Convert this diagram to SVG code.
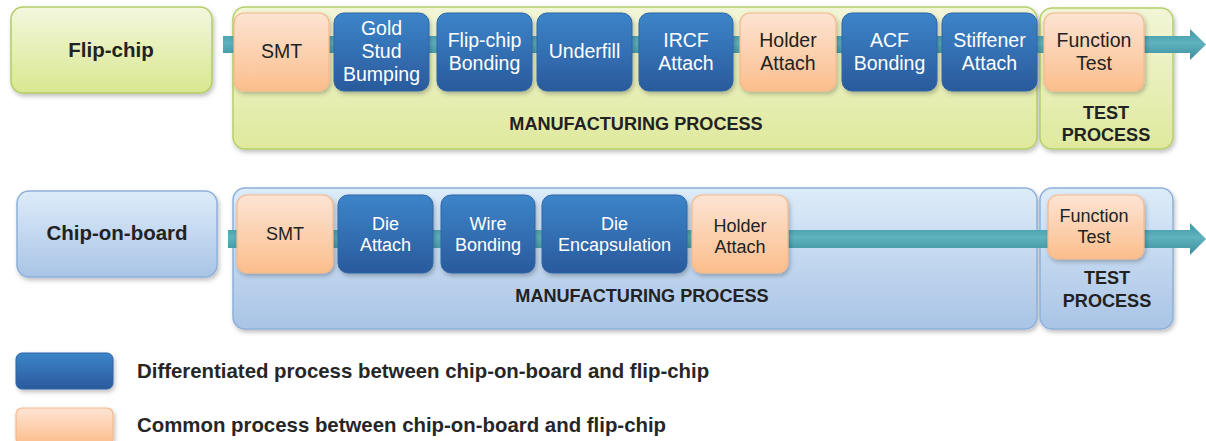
<svg xmlns="http://www.w3.org/2000/svg" width="1206" height="441" viewBox="0 0 1206 441">
<defs>
<linearGradient id="gGreen" x1="0" y1="0" x2="0" y2="1"><stop offset="0" stop-color="#f3f7de"/><stop offset="1" stop-color="#d9e78f"/></linearGradient>
<linearGradient id="gGreenC" x1="0" y1="0" x2="0" y2="1"><stop offset="0" stop-color="#f2f6d8"/><stop offset="1" stop-color="#dfe99d"/></linearGradient>
<linearGradient id="gBlueL" x1="0" y1="0" x2="0" y2="1"><stop offset="0" stop-color="#ddecf9"/><stop offset="1" stop-color="#a9c4e6"/></linearGradient>
<linearGradient id="gBlue" x1="0" y1="0" x2="0" y2="1"><stop offset="0" stop-color="#3c85c9"/><stop offset="1" stop-color="#2a5a9c"/></linearGradient>
<linearGradient id="gOrange" x1="0" y1="0" x2="0" y2="1"><stop offset="0" stop-color="#fde4d4"/><stop offset="1" stop-color="#fbbe8c"/></linearGradient>
<linearGradient id="gTeal" x1="0" y1="0" x2="0" y2="1"><stop offset="0" stop-color="#3f97a5"/><stop offset="0.45" stop-color="#5fb2be"/><stop offset="1" stop-color="#3a8e9c"/></linearGradient>
<filter id="sh" x="-10%" y="-10%" width="120%" height="130%"><feDropShadow dx="1.5" dy="2.5" stdDeviation="2" flood-color="#000" flood-opacity="0.25"/></filter>
<style>
.green{fill:url(#gGreen);stroke:#b3cc66;stroke-width:1.5}
.greenc{fill:url(#gGreenC);stroke:#b5cf6b;stroke-width:1.5}
.bluel{fill:url(#gBlueL);stroke:#8eb0da;stroke-width:1.5}
.blue{fill:url(#gBlue);stroke:#2f64a6;stroke-width:1}
.orange{fill:url(#gOrange);stroke:#f6b88a;stroke-width:1.2}
.teal{fill:url(#gTeal)}
text{font-family:"Liberation Sans",Arial,sans-serif;text-anchor:middle}
.t1w{font-size:19.5px;fill:#fff}
.t1d{font-size:19.5px;fill:#222}
.t2w{font-size:18px;fill:#fff}
.t2d{font-size:18px;fill:#222}
.title{font-size:20.5px;font-weight:bold;fill:#222}
.lab{font-size:18.1px;font-weight:bold;fill:#222}
.leg{font-size:20.4px;font-weight:bold;fill:#262626;text-anchor:start}
</style>
</defs>
<rect width="1206" height="441" fill="#fff"/>

<!-- Row 1: Flip-chip -->
<g id="flipchip-title"><rect class="green" x="11" y="7" width="201" height="86" rx="12" filter="url(#sh)"/><text class="title" x="111" y="57">Flip-chip</text></g>
<g id="fc-manufacturing"><rect class="greenc" x="233" y="7" width="804" height="142" rx="12" filter="url(#sh)"/><text class="lab" x="636" y="130">MANUFACTURING PROCESS</text></g>
<g id="fc-test"><rect class="greenc" x="1040" y="8" width="133" height="141" rx="12" filter="url(#sh)"/><text class="lab" x="1106" y="119">TEST</text><text class="lab" x="1106" y="141">PROCESS</text></g>

<!-- Row 2: Chip-on-board -->
<g id="cob-title"><rect class="bluel" x="17" y="191" width="200" height="86" rx="12" filter="url(#sh)"/><text class="title" x="117" y="240">Chip-on-board</text></g>
<g id="cob-manufacturing"><rect class="bluel" x="233" y="188" width="804" height="141" rx="12" filter="url(#sh)"/><text class="lab" x="642" y="302">MANUFACTURING PROCESS</text></g>
<g id="cob-test"><rect class="bluel" x="1040" y="188" width="133" height="141" rx="12" filter="url(#sh)"/><text class="lab" x="1107" y="284">TEST</text><text class="lab" x="1107" y="307">PROCESS</text></g>

<!-- Connectors -->
<g id="connectors">
<path class="teal" d="M223,36 H1190 V29 L1206,44.5 L1190,60 V53 H223 Z"/>
<path class="teal" d="M228,230 H1190 V223 L1206,239 L1190,255 V248 H228 Z"/>
</g>

<!-- Row 1 processes -->
<g id="fc-smt"><rect class="orange" x="234" y="13" width="95" height="78" rx="10" filter="url(#sh)"/><text class="t1d" x="281.5" y="58">SMT</text></g>
<g id="fc-gold"><rect class="blue" x="334" y="13" width="95" height="78" rx="10" filter="url(#sh)"/><text class="t1w" x="381.5" y="35">Gold</text><text class="t1w" x="381.5" y="58">Stud</text><text class="t1w" x="381.5" y="81">Bumping</text></g>
<g id="fc-bonding"><rect class="blue" x="437" y="13" width="95" height="78" rx="10" filter="url(#sh)"/><text class="t1w" x="484.5" y="47">Flip-chip</text><text class="t1w" x="484.5" y="70">Bonding</text></g>
<g id="fc-underfill"><rect class="blue" x="537" y="13" width="95" height="78" rx="10" filter="url(#sh)"/><text class="t1w" x="584.5" y="58">Underfill</text></g>
<g id="fc-ircf"><rect class="blue" x="639" y="13" width="94" height="78" rx="10" filter="url(#sh)"/><text class="t1w" x="686" y="47">IRCF</text><text class="t1w" x="686" y="70">Attach</text></g>
<g id="fc-holder"><rect class="orange" x="740" y="13" width="96" height="78" rx="10" filter="url(#sh)"/><text class="t1d" x="788" y="47">Holder</text><text class="t1d" x="788" y="70">Attach</text></g>
<g id="fc-acf"><rect class="blue" x="842" y="13" width="95" height="78" rx="10" filter="url(#sh)"/><text class="t1w" x="889.5" y="47">ACF</text><text class="t1w" x="889.5" y="70">Bonding</text></g>
<g id="fc-stiffener"><rect class="blue" x="942" y="13" width="95" height="78" rx="10" filter="url(#sh)"/><text class="t1w" x="989.5" y="47">Stiffener</text><text class="t1w" x="989.5" y="70">Attach</text></g>
<g id="fc-function"><rect class="orange" x="1044" y="13" width="100" height="78" rx="10" filter="url(#sh)"/><text class="t1d" x="1094" y="47">Function</text><text class="t1d" x="1094" y="70">Test</text></g>

<!-- Row 2 processes -->
<g id="cob-smt"><rect class="orange" x="237" y="195" width="96" height="78" rx="10" filter="url(#sh)"/><text class="t2d" x="285" y="240">SMT</text></g>
<g id="cob-die"><rect class="blue" x="338" y="195" width="95" height="78" rx="10" filter="url(#sh)"/><text class="t2w" x="385.5" y="230">Die</text><text class="t2w" x="385.5" y="251">Attach</text></g>
<g id="cob-wire"><rect class="blue" x="441" y="195" width="94" height="78" rx="10" filter="url(#sh)"/><text class="t2w" x="488" y="230">Wire</text><text class="t2w" x="488" y="251">Bonding</text></g>
<g id="cob-encap"><rect class="blue" x="542" y="195" width="145" height="78" rx="10" filter="url(#sh)"/><text class="t2w" x="614.5" y="230">Die</text><text class="t2w" x="614.5" y="251">Encapsulation</text></g>
<g id="cob-holder"><rect class="orange" x="692" y="195" width="96" height="78" rx="10" filter="url(#sh)"/><text class="t2d" x="740" y="232">Holder</text><text class="t2d" x="740" y="253">Attach</text></g>
<g id="cob-function"><rect class="orange" x="1048" y="195" width="96" height="64" rx="10" filter="url(#sh)"/><text class="t2d" x="1094" y="222">Function</text><text class="t2d" x="1094" y="243">Test</text></g>

<!-- Legend -->
<g id="legend-diff"><rect class="blue" x="16" y="353" width="97" height="36" rx="6" filter="url(#sh)"/><text class="leg" x="137" y="378">Differentiated process between chip-on-board and flip-chip</text></g>
<g id="legend-common"><rect class="orange" x="16" y="408" width="97" height="36" rx="6" filter="url(#sh)"/><text class="leg" x="137" y="432">Common process between chip-on-board and flip-chip</text></g>
</svg>
